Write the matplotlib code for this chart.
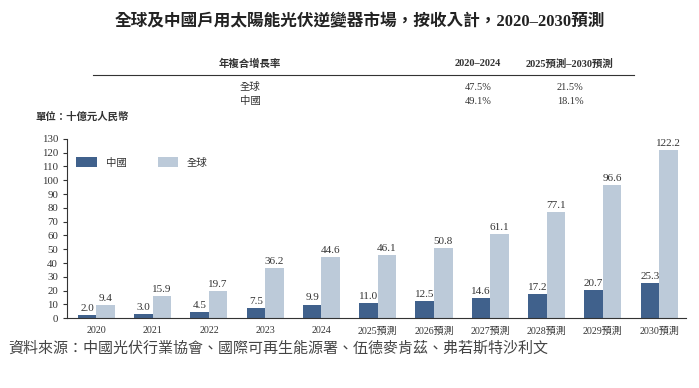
import numpy as np
import matplotlib.pyplot as plt

plt.rcParams['font.family'] = ['Liberation Serif', 'Noto Sans CJK TC']

years = ['2020', '2021', '2022', '2023', '2024', '2025預測', '2026預測',
         '2027預測', '2028預測', '2029預測', '2030預測']
china = [2.0, 3.0, 4.5, 7.5, 9.9, 11.0, 12.5, 14.6, 17.2, 20.7, 25.3]
world = [9.4, 15.9, 19.7, 36.2, 44.6, 46.1, 50.8, 61.1, 77.1, 96.6, 122.2]

cagr_header = ['年複合增長率', '2020–2024', '2025預測–2030預測']
cagr_rows = [['全球', '47.5%', '21.5%'], ['中國', '49.1%', '18.1%']]

c_china = '#40618c'
c_world = '#bccad9'
txt = '#333333'

fig = plt.figure(figsize=(6.99, 3.88), dpi=100)
ax = fig.add_axes([0.0959, 0.180, 0.885, 0.462])

x = np.arange(len(years))
w = 0.33
ax.bar(x - w / 2, china, w, color=c_china, label='中國')
ax.bar(x + w / 2, world, w, color=c_world, label='全球')

for i in range(len(years)):
    ax.text(x[i] - w / 2, china[i] + 1.5, f'{china[i]:.1f}', ha='center', va='bottom',
            fontsize=8, color=txt)
    ax.text(x[i] + w / 2, world[i] + 1.5, f'{world[i]:.1f}', ha='center', va='bottom',
            fontsize=8, color=txt)

ax.set_xlim(-0.52, 10.47)
ax.set_ylim(0, 130)
ax.set_yticks(np.arange(0, 131, 10))
ax.set_xticks(x)
ax.set_xticklabels(years)
ax.tick_params(axis='y', labelsize=7.8, colors=txt, length=3, width=0.8)
ax.tick_params(axis='x', labelsize=7.2, colors=txt, length=0, pad=6)
for s in ['top', 'right']:
    ax.spines[s].set_visible(False)
ax.spines['left'].set_color('#333333')
ax.spines['bottom'].set_color('#333333')

ax.legend(loc='upper left', bbox_to_anchor=(0.0, 0.95), ncol=2, frameon=False,
          fontsize=7.5, handlelength=2.0, handleheight=1.1, columnspacing=3.0,
          labelcolor=txt)

# title and CAGR table
fig.text(360 / 699, 1 - 22 / 388, '全球及中國戶用太陽能光伏逆變器市場，按收入計，2020–2030預測',
         ha='center', va='center', fontsize=12, fontweight='bold', color='#222222')

hy = 1 - 64 / 388
fig.text(250 / 699, hy, cagr_header[0], ha='center', va='center', fontsize=7.5,
         fontweight='bold', color=txt)
fig.text(478 / 699, hy, cagr_header[1], ha='center', va='center', fontsize=7.5,
         fontweight='bold', color=txt)
fig.text(570 / 699, hy, cagr_header[2], ha='center', va='center', fontsize=7.5,
         fontweight='bold', color=txt)
fig.add_artist(plt.Line2D([93 / 699, 634 / 699], [1 - 75 / 388] * 2, color='#333333', lw=0.8))
for k, row in enumerate(cagr_rows):
    ry = 1 - (87 + 14 * k) / 388
    fig.text(250 / 699, ry, row[0], ha='center', va='center', fontsize=7.5, color=txt)
    fig.text(478 / 699, ry, row[1], ha='center', va='center', fontsize=7.5, color=txt)
    fig.text(570 / 699, ry, row[2], ha='center', va='center', fontsize=7.5, color=txt)

fig.text(35 / 699, 1 - 117 / 388, '單位：十億元人民幣', ha='left', va='center',
         fontsize=7.5, fontweight='bold', color=txt)
fig.text(8 / 699, 1 - 349 / 388, '資料來源：中國光伏行業協會、國際可再生能源署、伍德麥肯茲、弗若斯特沙利文',
         ha='left', va='center', fontsize=10.8, style='italic', color='#444444')

fig.savefig('out.png', dpi=100, facecolor='w')
